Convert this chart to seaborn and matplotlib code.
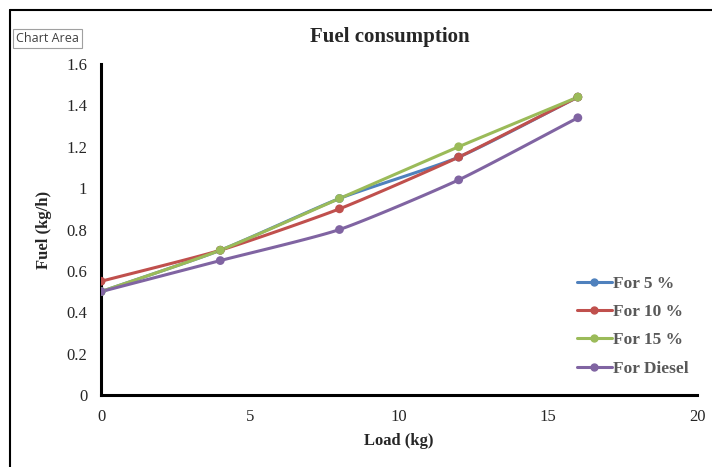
import matplotlib
matplotlib.use("Agg")
import matplotlib.pyplot as plt
import seaborn as sns
import numpy as np
import pandas as pd

# Data
load = [0, 4, 8, 12, 16]
fuel_5 = [0.50, 0.70, 0.95, 1.15, 1.44]
fuel_10 = [0.55, 0.70, 0.90, 1.15, 1.44]
fuel_15 = [0.50, 0.70, 0.95, 1.20, 1.44]
fuel_diesel = [0.50, 0.65, 0.80, 1.04, 1.34]
series_names = ["For 5 %", "For 10 %", "For 15 %", "For Diesel"]
colors = ["#4F81BD", "#C0504D", "#9BBB59", "#8064A2"]

x_ticks = [0, 5, 10, 15, 20]
y_ticks = [0, 0.2, 0.4, 0.6, 0.8, 1, 1.2, 1.4, 1.6]


def smooth(x, y, n=30):
    # Catmull-Rom style smoothing (like Excel's "smoothed line")
    x = np.asarray(x, float)
    y = np.asarray(y, float)
    px = np.concatenate([[2 * x[0] - x[1]], x, [2 * x[-1] - x[-2]]])
    py = np.concatenate([[2 * y[0] - y[1]], y, [2 * y[-1] - y[-2]]])
    xs, ys = [], []
    t = np.linspace(0, 1, n)
    for i in range(1, len(px) - 2):
        for p, out in ((px, xs), (py, ys)):
            p0, p1, p2, p3 = p[i - 1], p[i], p[i + 1], p[i + 2]
            m1 = (p2 - p0) / 2 * 0.6
            m2 = (p3 - p1) / 2 * 0.6
            h00 = 2 * t**3 - 3 * t**2 + 1
            h10 = t**3 - 2 * t**2 + t
            h01 = -2 * t**3 + 3 * t**2
            h11 = t**3 - t**2
            out.extend(h00 * p1 + h10 * m1 + h01 * p2 + h11 * m2)
    return np.array(xs), np.array(ys)


df = pd.DataFrame({"Load": load, "For 5 %": fuel_5, "For 10 %": fuel_10,
                   "For 15 %": fuel_15, "For Diesel": fuel_diesel})
long_df = df.melt(id_vars="Load", var_name="Series", value_name="Fuel")

sns.set_style("white")
plt.rcParams["font.family"] = ["Liberation Serif", "DejaVu Serif"]

fig = plt.figure(figsize=(7.12, 4.67), dpi=100)
ax = fig.add_axes([0.142, 0.154, 0.837, 0.709])

palette = dict(zip(series_names, colors))
for name in series_names:
    sx, sy = smooth(df["Load"], df[name])
    ax.plot(sx, sy, color=palette[name], lw=2.2, zorder=2)
sns.scatterplot(data=long_df, x="Load", y="Fuel", hue="Series",
                palette=palette, s=40, edgecolor="none", ax=ax,
                legend=False, zorder=3)

ax.set_xlim(0, 20)
ax.set_ylim(0, 1.6)
ax.set_xticks(x_ticks)
ax.set_yticks(y_ticks)
ax.set_yticklabels([f"{v:g}" for v in y_ticks])
ax.tick_params(axis="both", labelsize=12, length=0, pad=10)
ax.set_xlabel("Load (kg)", fontsize=12, fontweight="bold", labelpad=6)
ax.set_ylabel("Fuel (kg/h)", fontsize=12, fontweight="bold", labelpad=10)
fig.text(0.547, 0.921, "Fuel consumption", ha="center", va="center",
         fontsize=15, fontweight="bold")

for side in ["top", "right"]:
    ax.spines[side].set_visible(False)
for side in ["left", "bottom"]:
    ax.spines[side].set_linewidth(2.2)
    ax.spines[side].set_color("black")

# Legend
handles = [plt.Line2D([0], [0], color=c, lw=2.2, marker="o", markersize=5)
           for c in colors]
leg = ax.legend(handles, series_names, loc="upper left",
                bbox_to_anchor=(0.772, 0.408), frameon=False,
                handlelength=2.0, handletextpad=0.1, labelspacing=0.7,
                prop={"family": ["Liberation Serif"], "weight": "bold", "size": 12.5})
for t in leg.get_texts():
    t.set_color("#595959")

# Chart area frame and tooltip
fig.add_artist(plt.Line2D([0.014, 0.014], [0.0, 0.979], color="black", lw=1.5,
                          transform=fig.transFigure))
fig.add_artist(plt.Line2D([0.014, 1.0], [0.979, 0.979], color="black", lw=1.5,
                          transform=fig.transFigure))
fig.text(0.022, 0.918, "Chart Area", ha="left", va="center", fontsize=9,
         family=["Open Sans", "DejaVu Sans"], color="#404040",
         bbox=dict(boxstyle="square,pad=0.25", fc="white", ec="#A0A0A0", lw=0.8))

fig.savefig("out.png", dpi=100)
